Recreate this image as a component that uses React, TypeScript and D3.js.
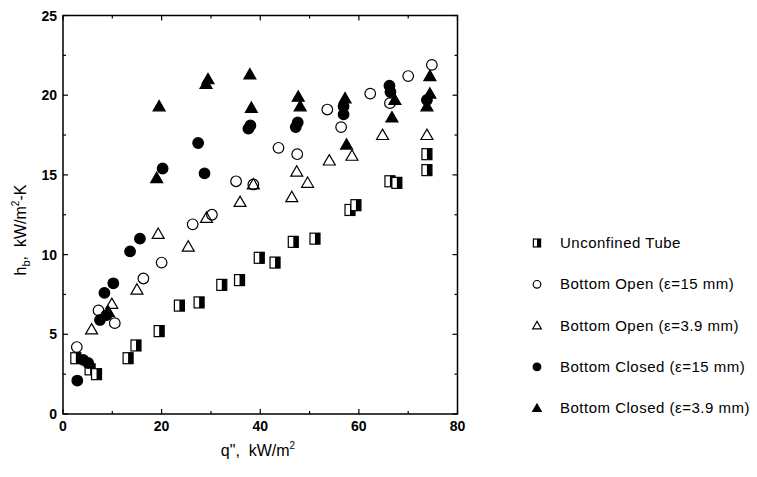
import React from "react";
import { scaleLinear, range, symbol, symbolTriangle } from "d3";

// q" (kW/m2) and h_b (kW/m2-K)
const unconfinedQ = [2.6, 5.5, 6.8, 13.2, 14.8, 19.5, 23.6, 27.6, 32.2, 35.8, 39.8, 43.0, 46.7, 51.1, 58.2, 59.4, 66.3, 67.7, 73.8, 73.8];
const unconfinedH = [3.5, 2.8, 2.5, 3.5, 4.3, 5.2, 6.8, 7.0, 8.1, 8.4, 9.8, 9.5, 10.8, 11.0, 12.8, 13.1, 14.6, 14.5, 16.3, 15.3];

const open15Q = [2.8, 7.2, 10.5, 16.3, 20.0, 26.3, 30.2, 35.1, 38.6, 43.7, 47.5, 53.6, 56.4, 62.3, 66.3, 70.0, 74.8];
const open15H = [4.2, 6.5, 5.7, 8.5, 9.5, 11.9, 12.5, 14.6, 14.4, 16.7, 16.3, 19.1, 18.0, 20.1, 19.5, 21.2, 21.9];

const open39Q = [5.8, 9.9, 15.0, 19.3, 25.4, 29.1, 35.9, 38.6, 46.4, 47.4, 49.6, 54.0, 58.6, 64.8, 73.8];
const open39H = [5.3, 6.9, 7.8, 11.3, 10.5, 12.3, 13.3, 14.4, 13.6, 15.2, 14.5, 15.9, 16.2, 17.5, 17.5];

const closed15Q = [2.9, 4.1, 5.1, 7.5, 8.4, 8.8, 10.2, 13.6, 15.6, 20.2, 27.4, 28.7, 37.6, 38.0, 47.2, 47.6, 56.9, 56.9, 66.2, 66.4, 73.8];
const closed15H = [2.1, 3.4, 3.2, 5.9, 7.6, 6.2, 8.2, 10.2, 11.0, 15.4, 17.0, 15.1, 17.9, 18.1, 18.0, 18.3, 19.3, 18.8, 20.6, 20.2, 19.7];

const closed39Q = [9.2, 19.0, 19.5, 29.0, 29.4, 37.9, 38.2, 47.7, 48.1, 57.2, 57.5, 66.7, 67.3, 74.4, 74.4, 73.8];
const closed39H = [6.4, 14.8, 19.3, 20.7, 21.0, 21.3, 19.2, 19.9, 19.3, 19.8, 16.9, 18.6, 19.7, 21.2, 20.1, 19.3];

const legendLabels = [
  "Unconfined Tube",
  "Bottom Open (\u03b5=15 mm)",
  "Bottom Open (\u03b5=3.9 mm)",
  "Bottom Closed (\u03b5=15 mm)",
  "Bottom Closed (\u03b5=3.9 mm)",
];
const xTicks = [0, 20, 40, 60, 80];
const yTicks = [0, 5, 10, 15, 20, 25];

const font = "'Liberation Sans', Arial, sans-serif";

const zip = (a: number[], b: number[]) => a.map((v, i) => [v, b[i]]);

// one marker per series, size s
function Marker({ kind, x, y, s = 1 }: { kind: number; x: number; y: number; s?: number }) {
  if (kind === 0) {
    const w = 10 * s, h = 11 * s;
    return (
      <g>
        <rect x={x - w / 2} y={y - h / 2} width={w} height={h} fill="#fff" stroke="#000" strokeWidth={1.2} />
        <rect x={x} y={y - h / 2} width={w / 2} height={h} fill="#000" />
      </g>
    );
  }
  if (kind === 1 || kind === 3) {
    return (
      <circle cx={x} cy={y} r={5.3 * s} fill={kind === 3 ? "#000" : "#fff"} fillOpacity={kind === 3 ? 1 : 0}
        stroke="#000" strokeWidth={1.2} />
    );
  }
  const tri = symbol().type(symbolTriangle).size(62 * s * s)();
  return (
    <path d={tri || ""} transform={`translate(${x},${y + 1 * s})`} fill={kind === 4 ? "#000" : "none"}
      stroke="#000" strokeWidth={1.2} strokeLinejoin="miter" />
  );
}

export default function App() {
  const width = 757;
  const height = 477;
  const xScale = scaleLinear().domain([0, 80]).range([63, 457.5]);
  const yScale = scaleLinear().domain([0, 25]).range([414, 15.5]);
  const [x0, x1] = xScale.range();
  const [y0, y1] = yScale.range();

  const series = [
    zip(unconfinedQ, unconfinedH),
    zip(open15Q, open15H),
    zip(open39Q, open39H),
    zip(closed15Q, closed15H),
    zip(closed39Q, closed39H),
  ];

  const xMinor = range(0, 81, 10);
  const yMinor = range(0, 25.1, 2.5);

  return (
    <svg width={width} height={height} style={{ position: "absolute", left: 0, top: 0, background: "#fff" }}>
      {/* frame */}
      <rect x={x0} y={y1} width={x1 - x0} height={y0 - y1} fill="none" stroke="#000" strokeWidth={1.5} />
      {xMinor.map((t) => {
        const len = t % 20 === 0 ? 5 : 3;
        return (
          <g key={"xt" + t}>
            <line x1={xScale(t)} x2={xScale(t)} y1={y0} y2={y0 - len} stroke="#000" strokeWidth={1.2} />
            <line x1={xScale(t)} x2={xScale(t)} y1={y1} y2={y1 + len} stroke="#000" strokeWidth={1.2} />
          </g>
        );
      })}
      {yMinor.map((t) => {
        const len = t % 5 === 0 ? 5 : 3;
        return (
          <g key={"yt" + t}>
            <line x1={x0} x2={x0 + len} y1={yScale(t)} y2={yScale(t)} stroke="#000" strokeWidth={1.2} />
            <line x1={x1} x2={x1 - len} y1={yScale(t)} y2={yScale(t)} stroke="#000" strokeWidth={1.2} />
          </g>
        );
      })}
      {xTicks.map((t) => (
        <text key={"xl" + t} x={xScale(t)} y={y0 + 17} textAnchor="middle" fontFamily={font} fontSize={14}
          fontWeight="bold">
          {t}
        </text>
      ))}
      {yTicks.map((t) => (
        <text key={"yl" + t} x={x0 - 6} y={yScale(t) + 5} textAnchor="end" fontFamily={font} fontSize={14}
          fontWeight="bold">
          {t}
        </text>
      ))}

      {/* axis titles */}
      <text x={258} y={456} textAnchor="middle" fontFamily={font} fontSize={16} xmlSpace="preserve">
        q",  kW/m<tspan dy={-7} fontSize={10}>2</tspan>
      </text>
      <text transform="translate(26,230) rotate(-90)" textAnchor="middle" fontFamily={font} fontSize={16}
        xmlSpace="preserve">
        h<tspan dy={4} fontSize={11}>b</tspan>
        <tspan dy={-4}>,  kW/m</tspan>
        <tspan dy={-7} fontSize={10}>2</tspan>
        <tspan dy={7}>-K</tspan>
      </text>

      {/* data */}
      {series.map((pts, k) => (
        <g key={"s" + k}>
          {pts.map(([q, h], i) => (
            <Marker key={i} kind={k} x={xScale(q)} y={yScale(h)} />
          ))}
        </g>
      ))}

      {/* legend */}
      {legendLabels.map((lab, i) => {
        const ly = 243 + i * 41.3;
        return (
          <g key={"lg" + i}>
            <Marker kind={i} x={537} y={ly} s={0.72} />
            <text x={560} y={ly + 5} fontFamily={font} fontSize={15} letterSpacing={0.5}>
              {lab}
            </text>
          </g>
        );
      })}
    </svg>
  );
}
